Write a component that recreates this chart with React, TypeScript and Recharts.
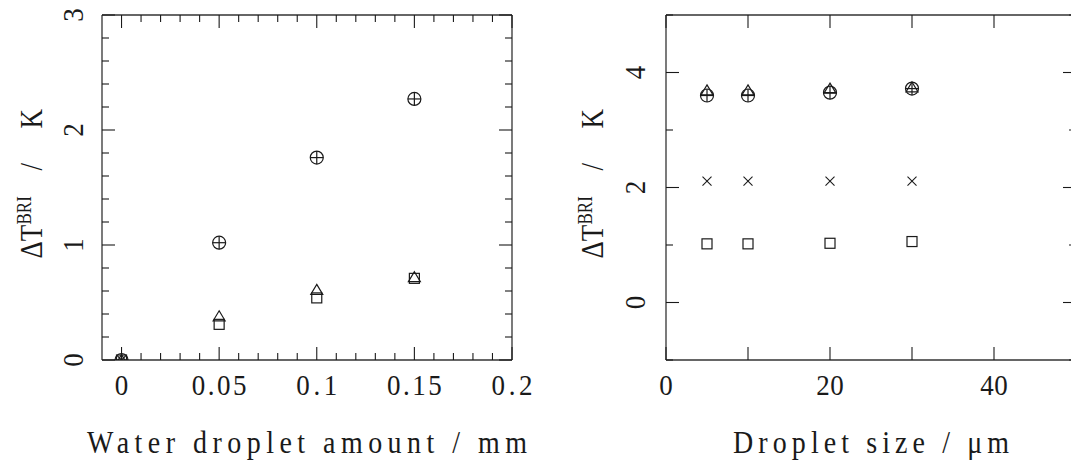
import { ScatterChart, Scatter, XAxis, YAxis } from "recharts";

// left panel: water droplet amount (mm)
const amountX = [0, 0.05, 0.1, 0.15];
const amountCirclePlus = [0, 1.02, 1.76, 2.27];
const amountTriangle = [0, 0.38, 0.61, 0.72];
const amountSquare = [0, 0.31, 0.54, 0.71];
const amountCrossX = [0];
const amountCross = [0];

// right panel: droplet size (um)
const sizeX = [5, 10, 20, 30];
const sizeCirclePlus = [3.6, 3.6, 3.65, 3.72];
const sizeTriangle = [3.69, 3.69, 3.72, 3.74];
const sizeCross = [2.11, 2.11, 2.11, 2.11];
const sizeSquare = [1.02, 1.02, 1.03, 1.06];

// ticks
const amountXTicks = [
  0, 0.01, 0.02, 0.03, 0.04, 0.05, 0.06, 0.07, 0.08, 0.09, 0.1, 0.11, 0.12,
  0.13, 0.14, 0.15, 0.16, 0.17, 0.18, 0.19, 0.2,
];
const amountXMajor = [0, 0.05, 0.1, 0.15, 0.2];
const amountXLabels = [0, 0.05, 0.1, 0.15, 0.2];
const amountYTicks = [
  0, 0.2, 0.4, 0.6, 0.8, 1, 1.2, 1.4, 1.6, 1.8, 2, 2.2, 2.4, 2.6, 2.8, 3,
];
const amountYMajor = [0, 1, 2, 3];
const amountYLabels = [0, 1, 2, 3];

const sizeXTicks = [0, 10, 20, 30, 40, 50];
const sizeXMajor = [0, 10, 20, 30, 40, 50];
const sizeXLabels = [0, 20, 40];
const sizeYTicks = [-1, 0, 1, 2, 3, 4, 5];
const sizeYMajor = [0, 2, 4];
const sizeYLabels = [0, 2, 4];

const INK = "#1a1a1a";
const FONT = "'Liberation Serif', 'Times New Roman', serif";
const MAJOR = 13;
const MINOR = 7;
const CHAR_W = 13.7;

const zip = (xs: number[], ys: number[]) => xs.map((x, i) => ({ x, y: ys[i] }));

function CirclePlus(props: any) {
  const { cx, cy } = props;
  const r = 6.5;
  return (
    <g stroke={INK} strokeWidth={1.2} fill="none">
      <circle cx={cx} cy={cy} r={r} />
      <line x1={cx - r} y1={cy} x2={cx + r} y2={cy} />
      <line x1={cx} y1={cy - r} x2={cx} y2={cy + r} />
    </g>
  );
}

function Triangle(props: any) {
  const { cx, cy } = props;
  return (
    <path
      d={`M${cx},${cy - 5.5}L${cx + 6},${cy + 4.5}L${cx - 6},${cy + 4.5}Z`}
      stroke={INK}
      strokeWidth={1.2}
      fill="none"
    />
  );
}

function Square(props: any) {
  const { cx, cy } = props;
  return (
    <rect x={cx - 5} y={cy - 5} width={10} height={10} stroke={INK} strokeWidth={1.2} fill="none" />
  );
}

function Cross(props: any) {
  const { cx, cy } = props;
  const d = 4.5;
  return (
    <g stroke={INK} strokeWidth={1.1}>
      <line x1={cx - d} y1={cy - d} x2={cx + d} y2={cy + d} />
      <line x1={cx - d} y1={cy + d} x2={cx + d} y2={cy - d} />
    </g>
  );
}

function tickText(label: string, transform: string) {
  return (
    <text
      transform={transform}
      textAnchor="middle"
      fontFamily={FONT}
      fontSize={27}
      fill={INK}
      stroke="none"
      textLength={label.length > 1 ? label.length * CHAR_W : undefined}
      lengthAdjust="spacing"
    >
      {label}
    </text>
  );
}

function makeTick(side: string, major: number[], labels: number[], gap: number) {
  return (props: any) => {
    const { x, y, payload } = props;
    const v = payload.value;
    const len = major.includes(v) ? MAJOR : MINOR;
    let line = null;
    if (side === "bottom") line = <line x1={x} y1={y} x2={x} y2={y - len} />;
    if (side === "top") line = <line x1={x} y1={y} x2={x} y2={y + len} />;
    if (side === "left") line = <line x1={x} y1={y} x2={x + len} y2={y} />;
    if (side === "right") line = <line x1={x} y1={y} x2={x - len} y2={y} />;
    let text = null;
    if (labels.includes(v)) {
      if (side === "bottom") {
        text = tickText(String(v), `translate(${x},${y + gap}) scale(1,1.1)`);
      }
      if (side === "left") {
        text = tickText(String(v), `translate(${x - gap},${y}) rotate(-90) scale(1,1.1)`);
      }
    }
    return (
      <g stroke={INK} strokeWidth={1.1}>
        {line}
        {text}
      </g>
    );
  };
}

function yTitle(gap: number) {
  return (p: any) => {
    const vb = p.viewBox;
    const bx = vb.x + vb.width - gap;
    const by = vb.y + vb.height / 2 + 71;
    return (
      <text
        transform={`translate(${bx},${by}) rotate(-90) scale(1,1.2)`}
        fontFamily={FONT}
        fontSize={27}
        fill={INK}
      >
        <tspan x={0} y={0}>ΔT</tspan>
        <tspan x={34} y={-9} fontSize={17}>BRI</tspan>
        <tspan x={88} y={0}>/</tspan>
        <tspan x={130} y={0}>K</tspan>
      </text>
    );
  };
}

function xTitle(title: string, length: number) {
  return (p: any) => {
    const vb = p.viewBox;
    return (
      <text
        transform={`translate(${vb.x + vb.width / 2},${vb.y + 93}) scale(1,1.1)`}
        textAnchor="middle"
        fontFamily={FONT}
        fontSize={28}
        fill={INK}
        textLength={length}
        lengthAdjust="spacing"
      >
        {title}
      </text>
    );
  };
}

const axisLine = { stroke: "#333", strokeWidth: 1.3 };

function Panel(props: any) {
  const {
    width,
    left,
    yWidth,
    marginRight,
    xDomain,
    yDomain,
    xTicks,
    xMajor,
    xLabels,
    yTicks,
    yMajor,
    yLabels,
    yLabelGap,
    yTitleGap,
    title,
    titleLength,
    series,
  } = props;
  return (
    <div style={{ position: "absolute", left, top: 0 }}>
      <ScatterChart
        width={width}
        height={464}
        margin={{ top: 14, right: marginRight, bottom: 0, left: 0 }}
      >
        <XAxis
          xAxisId="b"
          type="number"
          dataKey="x"
          orientation="bottom"
          domain={xDomain}
          allowDataOverflow
          ticks={xTicks}
          interval={0}
          height={104}
          tickSize={0}
          tickMargin={0}
          tickLine={false}
          axisLine={axisLine}
          tick={makeTick("bottom", xMajor, xLabels, 35)}
          label={xTitle(title, titleLength)}
        />
        <XAxis
          xAxisId="t"
          type="number"
          dataKey="x"
          orientation="top"
          domain={xDomain}
          allowDataOverflow
          ticks={xTicks}
          interval={0}
          height={1}
          tickSize={0}
          tickMargin={0}
          tickLine={false}
          axisLine={axisLine}
          tick={makeTick("top", xMajor, [], 0)}
        />
        <YAxis
          yAxisId="l"
          type="number"
          dataKey="y"
          orientation="left"
          domain={yDomain}
          allowDataOverflow
          ticks={yTicks}
          interval={0}
          width={yWidth}
          tickSize={0}
          tickMargin={0}
          tickLine={false}
          axisLine={axisLine}
          tick={makeTick("left", yMajor, yLabels, yLabelGap)}
          label={yTitle(yTitleGap)}
        />
        <YAxis
          yAxisId="r"
          type="number"
          dataKey="y"
          orientation="right"
          domain={yDomain}
          allowDataOverflow
          ticks={yTicks}
          interval={0}
          width={1}
          tickSize={0}
          tickMargin={0}
          tickLine={false}
          axisLine={axisLine}
          tick={makeTick("right", yMajor, [], 0)}
        />
        {series.map((s: any, i: number) => (
          <Scatter
            key={i}
            xAxisId="b"
            yAxisId="l"
            data={s.data}
            shape={s.shape}
            isAnimationActive={false}
          />
        ))}
      </ScatterChart>
    </div>
  );
}

export default function App() {
  const amountSeries = [
    { data: zip(amountX, amountTriangle), shape: Triangle },
    { data: zip(amountX, amountSquare), shape: Square },
    { data: zip(amountCrossX, amountCross), shape: Cross },
    { data: zip(amountX, amountCirclePlus), shape: CirclePlus },
  ];
  const sizeSeries = [
    { data: zip(sizeX, sizeTriangle), shape: Triangle },
    { data: zip(sizeX, sizeSquare), shape: Square },
    { data: zip(sizeX, sizeCross), shape: Cross },
    { data: zip(sizeX, sizeCirclePlus), shape: CirclePlus },
  ];
  return (
    <div
      style={{
        position: "fixed",
        left: 0,
        top: 0,
        width: 1071,
        height: 464,
        overflow: "hidden",
        background: "#fff",
      }}
    >
      <Panel
        width={540}
        left={0}
        yWidth={102}
        marginRight={27}
        xDomain={[-0.01, 0.2]}
        yDomain={[0, 3]}
        xTicks={amountXTicks}
        xMajor={amountXMajor}
        xLabels={amountXLabels}
        yTicks={amountYTicks}
        yMajor={amountYMajor}
        yLabels={amountYLabels}
        yLabelGap={19}
        yTitleGap={60}
        title="Water droplet amount / mm"
        titleLength={440}
        series={amountSeries}
      />
      <Panel
        width={560}
        left={540}
        yWidth={126}
        marginRight={23}
        xDomain={[0, 50]}
        yDomain={[-1, 5]}
        xTicks={sizeXTicks}
        xMajor={sizeXMajor}
        xLabels={sizeXLabels}
        yTicks={sizeYTicks}
        yMajor={sizeYMajor}
        yLabels={sizeYLabels}
        yLabelGap={21}
        yTitleGap={63}
        title="Droplet size / μm"
        titleLength={276}
        series={sizeSeries}
      />
    </div>
  );
}
